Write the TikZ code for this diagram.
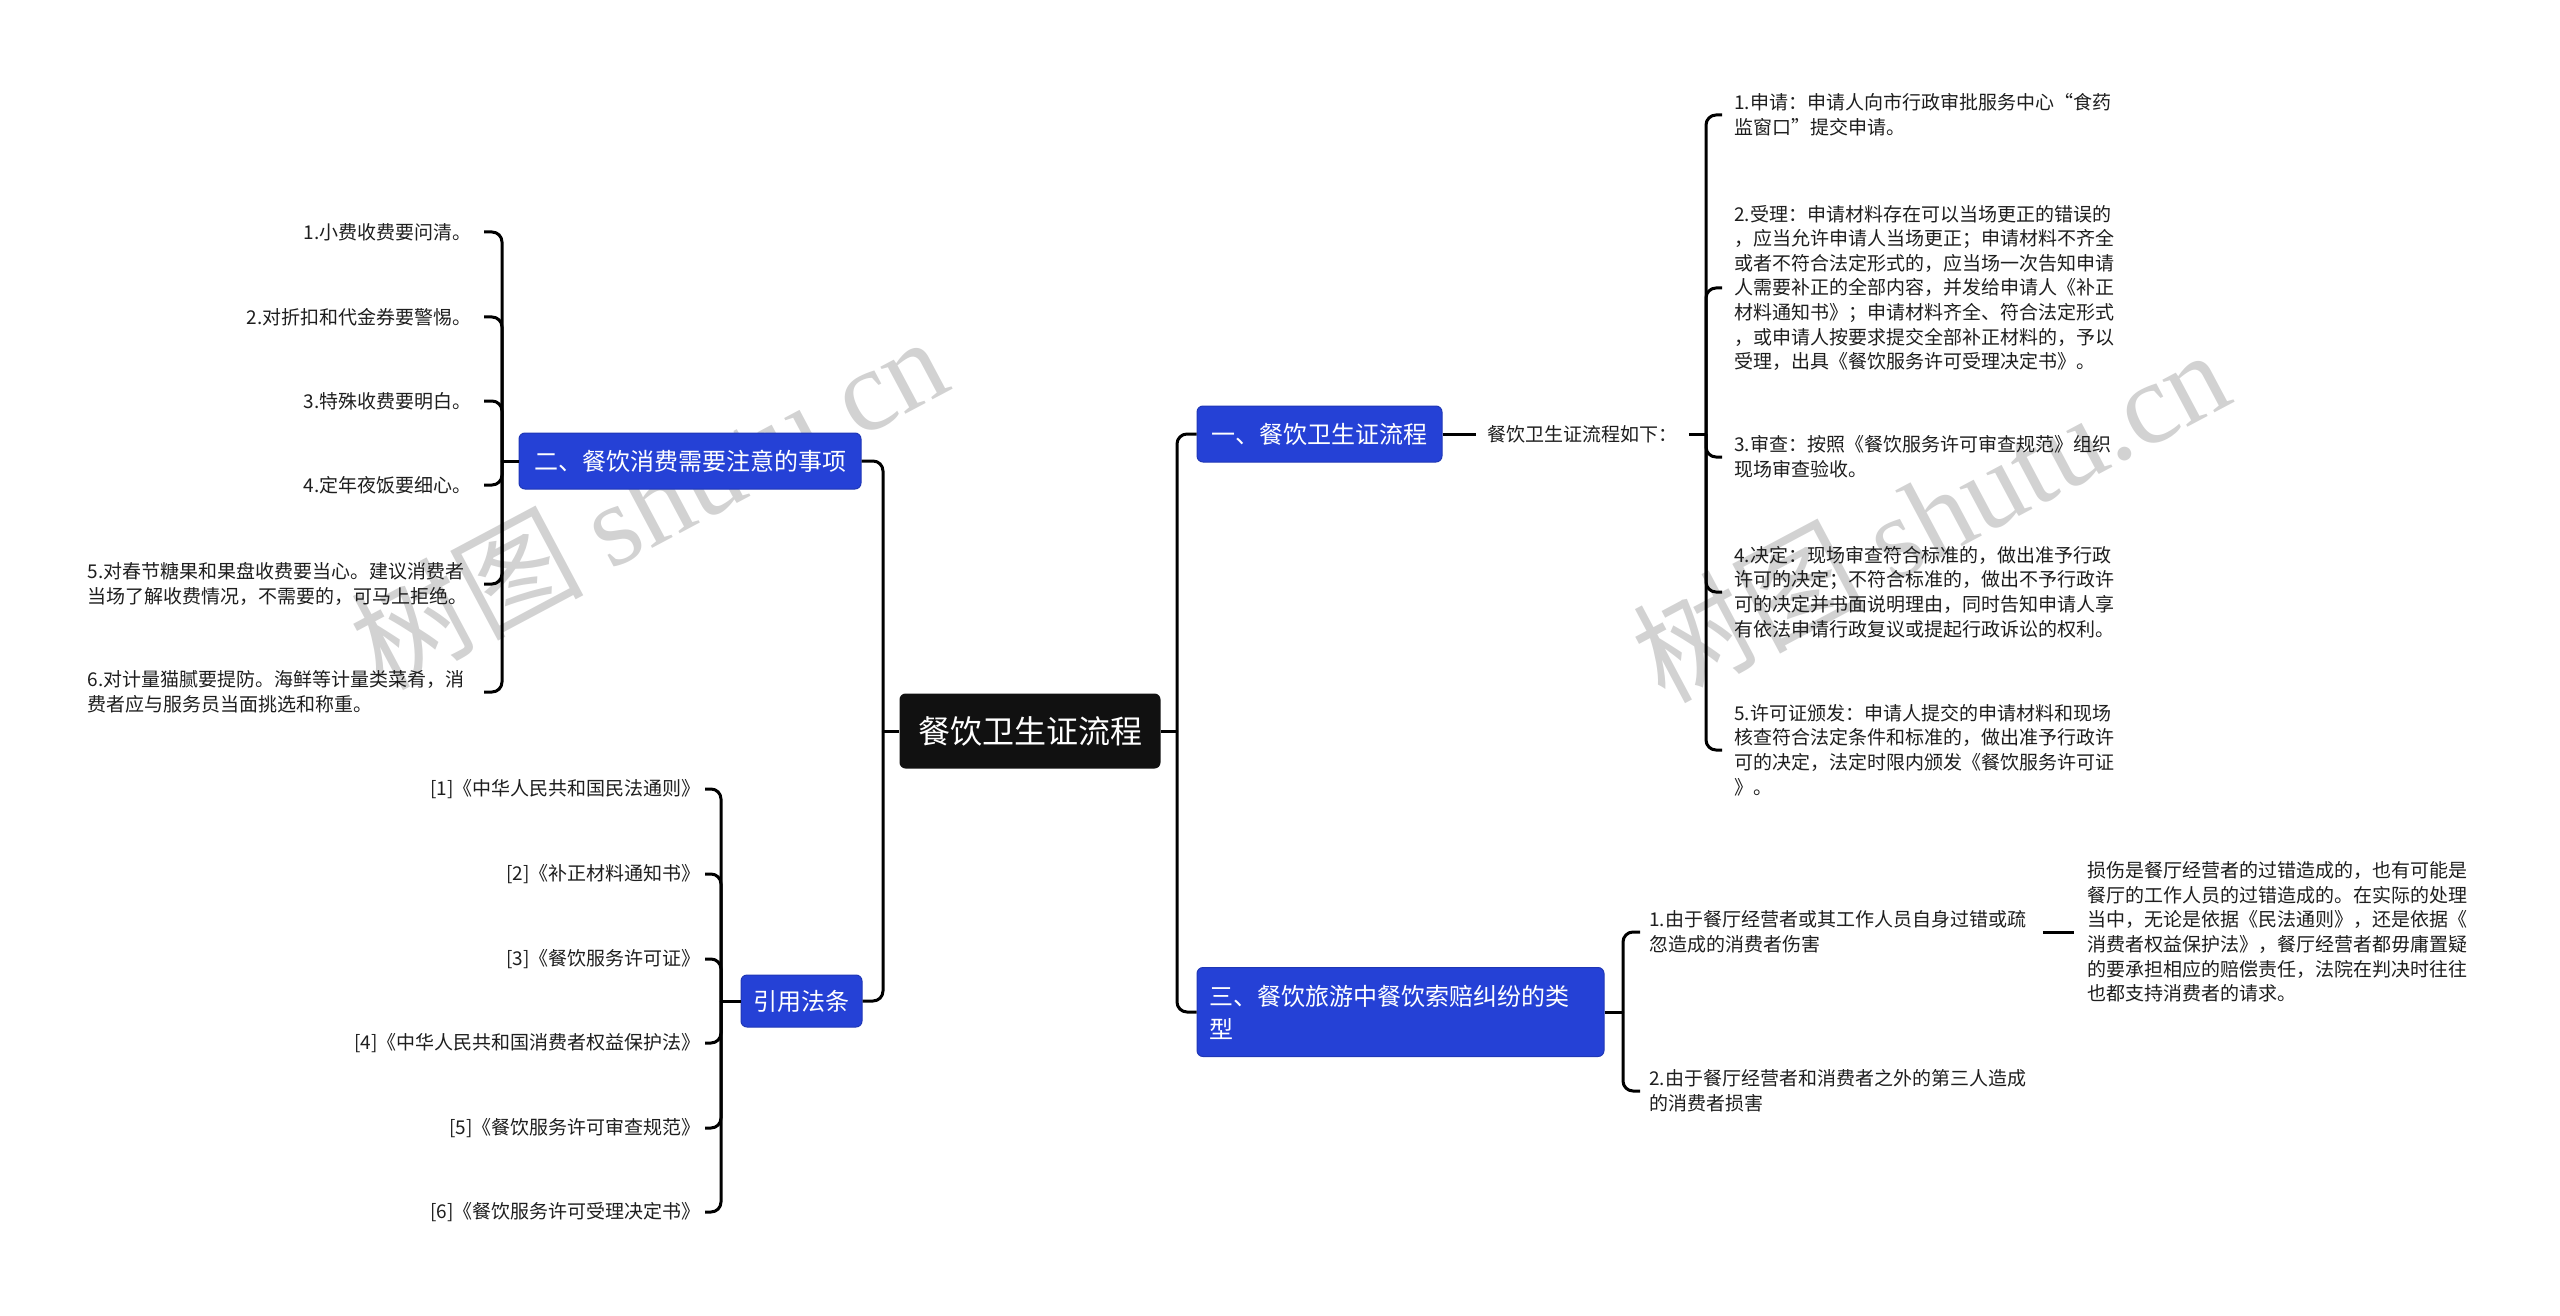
\documentclass[tikz,border=0pt]{standalone}
\usepackage{fontspec}
\setmainfont{Noto Sans CJK SC}
\newfontfamily\wmserif{Liberation Serif}
\definecolor{mblue}{HTML}{2541D6}
\definecolor{mdark}{HTML}{111111}
\definecolor{txt}{HTML}{1E1E1E}
\definecolor{wm}{HTML}{D2D2D2}
\begin{document}
\begin{tikzpicture}[x=0.5pt,y=-0.5pt,
  conn/.style={line width=1.5pt, draw=black},
  rc/.style={conn, rounded corners=5pt},
  branch/.style={fill=mblue, draw=mblue!85!black, line width=0.5pt, rounded corners=3pt, text=white,
    font=\fontsize{12pt}{16.5pt}\selectfont, inner sep=0pt},
  leaf/.style={text=txt, font=\fontsize{9.5pt}{12.3pt}\selectfont, inner ysep=2pt, align=left},
  leafL/.style={leaf, anchor=east, inner xsep=6pt},
  leafR/.style={leaf, anchor=west, inner xsep=6pt},
  wmark/.style={text=wm, rotate=28, font=\fontsize{58pt}{60pt}\selectfont}
]
\useasboundingbox (0,0) rectangle (2560,1316);

% watermarks
\node[wmark] (wm1) at (648,501) {树图 {\wmserif shutu.cn}};
\node[wmark] (wm2) at (1930,514) {树图 {\wmserif shutu.cn}};

% central
\node[fill=mdark, rounded corners=3pt, text=white, font=\fontsize{16pt}{20pt}\selectfont,
  minimum width=130.5pt, minimum height=37.5pt, inner sep=0pt] (c) at (1030,731) {餐饮卫生证流程};

% branches
\node[branch, minimum width=122.5pt, minimum height=28pt] (n1) at (1319.5,434) {一、餐饮卫生证流程};
\node[branch, minimum width=171pt, minimum height=28pt] (n2) at (690,461) {二、餐饮消费需要注意的事项};
\node[branch, minimum width=203.5pt, minimum height=44.5pt, text width=191pt, align=left] (n3) at (1400.5,1012) {三、餐饮旅游中餐饮索赔纠纷的类\\型};
\node[branch, minimum width=60.5pt, minimum height=26pt] (n4) at (801.5,1001) {引用法条};

% trunks
\coordinate (L) at (883,731);
\coordinate (R) at (1177,731);
\draw[conn] (c.west) -- (L);
\draw[rc] (L) |- (n2.east);
\draw[rc] (L) |- (n4.east);
\draw[conn] (c.east) -- (R);
\draw[rc] (R) |- (n1.west);
\draw[rc] (R) |- (n3.west);

% branch 1
\node[leaf, anchor=west, inner xsep=5.5pt] (lbl) at (1476,434) {餐饮卫生证流程如下：};
\draw[conn] (n1.east) -- (lbl.west);
\coordinate (B1) at (1706,434);
\draw[conn] (lbl.east) -- (B1);
\node[leafR, text width=192pt] (r1) at (1722,115) {1.申请：申请人向市行政审批服务中心“食药\\监窗口”提交申请。};
\node[leafR, text width=192pt] (r2) at (1722,288) {2.受理：申请材料存在可以当场更正的错误的\\，应当允许申请人当场更正；申请材料不齐全\\或者不符合法定形式的，应当场一次告知申请\\人需要补正的全部内容，并发给申请人《补正\\材料通知书》；申请材料齐全、符合法定形式\\，或申请人按要求提交全部补正材料的，予以\\受理，出具《餐饮服务许可受理决定书》。};
\node[leafR, text width=192pt] (r3) at (1722,457) {3.审查：按照《餐饮服务许可审查规范》组织\\现场审查验收。};
\node[leafR, text width=192pt] (r4) at (1722,592) {4.决定：现场审查符合标准的，做出准予行政\\许可的决定；不符合标准的，做出不予行政许\\可的决定并书面说明理由，同时告知申请人享\\有依法申请行政复议或提起行政诉讼的权利。};
\node[leafR, text width=192pt] (r5) at (1722,750) {5.许可证颁发：申请人提交的申请材料和现场\\核查符合法定条件和标准的，做出准予行政许\\可的决定，法定时限内颁发《餐饮服务许可证\\》。};
\foreach \i in {1,...,5} {\draw[rc] (B1) |- (r\i.west);}

% branch 2
\coordinate (B2) at (502,461);
\draw[conn] (n2.west) -- (B2);
\node[leafL] (l1) at (484,232) {1.小费收费要问清。};
\node[leafL] (l2) at (484,317) {2.对折扣和代金券要警惕。};
\node[leafL] (l3) at (484,401) {3.特殊收费要明白。};
\node[leafL] (l4) at (484,485) {4.定年夜饭要细心。};
\node[leafL, text width=192pt] (l5) at (484,584) {5.对春节糖果和果盘收费要当心。建议消费者\\当场了解收费情况，不需要的，可马上拒绝。};
\node[leafL, text width=192pt] (l6) at (484,692) {6.对计量猫腻要提防。海鲜等计量类菜肴，消\\费者应与服务员当面挑选和称重。};
\foreach \i in {1,...,6} {\draw[rc] (B2) |- (l\i.east);}

% branch 4 (references)
\coordinate (B4) at (721,1001);
\draw[conn] (n4.west) -- (B4);
\node[leaf, anchor=east, inner xsep=2pt] (f1) at (705,789) {[1]《中华人民共和国民法通则》};
\node[leaf, anchor=east, inner xsep=2pt] (f2) at (705,874) {[2]《补正材料通知书》};
\node[leaf, anchor=east, inner xsep=2pt] (f3) at (705,959) {[3]《餐饮服务许可证》};
\node[leaf, anchor=east, inner xsep=2pt] (f4) at (705,1043) {[4]《中华人民共和国消费者权益保护法》};
\node[leaf, anchor=east, inner xsep=2pt] (f5) at (705,1128) {[5]《餐饮服务许可审查规范》};
\node[leaf, anchor=east, inner xsep=2pt] (f6) at (705,1212) {[6]《餐饮服务许可受理决定书》};
\foreach \i in {1,...,6} {\draw[rc] (B4) |- (f\i.east);}

% branch 3
\coordinate (B3) at (1623,1012);
\draw[conn] (n3.east) -- (B3);
\node[leaf, anchor=west, inner xsep=4.5pt, text width=192pt] (t1) at (1640,932) {1.由于餐厅经营者或其工作人员自身过错或疏\\忽造成的消费者伤害};
\node[leaf, anchor=west, inner xsep=4.5pt, text width=192pt] (t2) at (1640,1091) {2.由于餐厅经营者和消费者之外的第三人造成\\的消费者损害};
\draw[rc] (B3) |- (t1.west);
\draw[rc] (B3) |- (t2.west);
\node[leaf, anchor=west, inner xsep=6.5pt, text width=192pt] (d1) at (2074,932) {损伤是餐厅经营者的过错造成的，也有可能是\\餐厅的工作人员的过错造成的。在实际的处理\\当中，无论是依据《民法通则》，还是依据《\\消费者权益保护法》，餐厅经营者都毋庸置疑\\的要承担相应的赔偿责任，法院在判决时往往\\也都支持消费者的请求。};
\draw[conn] (t1.east) -- (d1.west);
\end{tikzpicture}
\end{document}
